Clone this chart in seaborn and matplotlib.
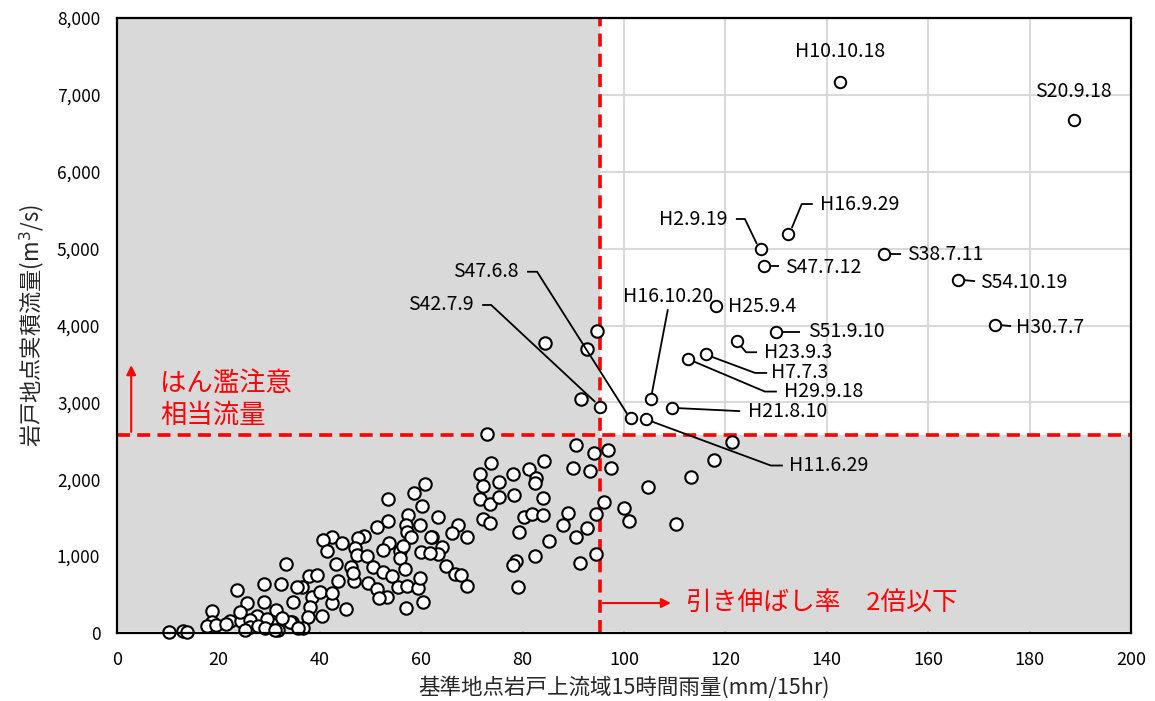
import numpy as np
import pandas as pd
import matplotlib
matplotlib.use("Agg")
import matplotlib.pyplot as plt
import seaborn as sns
from matplotlib.ticker import FuncFormatter, MultipleLocator

# ---------------- data ----------------
rain_x = [73.0, 90.5, 94.1, 96.8, 89.9, 93.3, 97.4, 73.8, 71.6, 72.2, 75.3, 78.1, 81.3, 82.6, 82.4, 84.2,
          71.6, 73.6, 75.3, 78.3, 84.0, 96.1, 72.2, 73.6, 80.3, 81.9, 84.0, 89.0, 88.0, 94.5, 92.7, 90.5,
          79.3, 85.2, 82.4, 78.7, 78.1, 94.5, 91.3, 79.1, 63.3, 67.3, 66.1, 69.0, 62.1, 64.1, 63.3, 64.9,
          66.7, 67.9, 69.0,
          121.3, 117.8, 113.2, 104.7, 100.0, 101.0, 110.3,
          84.4, 94.7, 92.7, 91.5,
          60.7, 58.6, 53.5, 60.2, 57.4, 53.5, 59.8, 57.0, 51.3, 57.2, 61.9, 58.0, 53.6, 52.5, 55.8, 56.4,
          60.0, 61.7, 55.8, 48.7, 47.5, 42.4, 40.6, 41.4, 44.4, 46.9, 47.3, 49.3, 50.5, 46.2, 52.5, 54.2,
          56.8, 43.2, 43.6, 46.7, 49.5, 51.3, 53.3, 51.7, 55.4, 57.2, 59.4, 59.8, 60.4, 57.0, 45.2, 42.4,
          40.4, 37.9, 39.4, 36.5, 38.5, 40.0, 42.4, 38.1, 37.7, 36.7, 34.7, 34.5, 46.5,
          33.3, 29.0, 32.3, 23.7, 25.6, 29.0, 31.4, 27.6, 18.7, 22.3, 24.5, 18.7, 17.8, 30.6, 34.1, 26.2,
          29.6, 10.3, 13.0, 13.8, 26.2, 31.8, 35.7, 35.5, 25.2, 27.8, 29.2, 32.5, 31.2, 24.3, 19.5, 21.5]
flow_y = [2590, 2446, 2341, 2380, 2146, 2107, 2150, 2211, 2068, 1912, 1964, 2068, 2133, 2016, 1951, 2237,
          1743, 1678, 1769, 1795, 1756, 1704, 1483, 1431, 1509, 1548, 1535, 1560, 1405, 1548, 1366, 1249,
          1314, 1197, 1002, 937, 885, 1028, 911, 598, 1509, 1405, 1301, 1249, 1249, 1119, 1028, 872,
          767, 754, 611,
          2485, 2250, 2029, 1899, 1626, 1457, 1418,
          3772, 3928, 3694, 3044,
          1938, 1821, 1743, 1652, 1535, 1457, 1405, 1405, 1379, 1314, 1249, 1249, 1171, 1080, 1067, 1132,
          1054, 1041, 976, 1262, 1236, 1249, 1210, 1067, 1171, 1106, 1015, 1002, 859, 859, 794, 741,
          833, 898, 676, 676, 650, 572, 468, 455, 598, 611, 585, 715, 403, 325, 312, 390,
          221, 741, 754, 598, 468, 533, 520, 338, 208, 65, 403, 143, 780,
          898, 637, 637, 559, 390, 403, 299, 221, 286, 156, 156, 143, 91, 117, 143, 169,
          182, 13, 26, 13, 78, 39, 65, 598, 39, 91, 65, 195, 39, 273, 100, 120]

event_names = ["H10.10.18", "S20.9.18", "H16.9.29", "H2.9.19", "S47.7.12", "S38.7.11", "S54.10.19",
               "H30.7.7", "H25.9.4", "S51.9.10", "H23.9.3", "H7.7.3", "H29.9.18", "H16.10.20",
               "H21.8.10", "H11.6.29", "S47.6.8", "S42.7.9"]
event_x = [142.6, 188.8, 132.3, 127.0, 127.6, 151.3, 165.9, 173.2, 118.1, 130.0, 122.3, 116.2, 112.6,
           105.3, 109.5, 104.3, 101.4, 95.3]
event_y = [7170, 6670, 5190, 4995, 4770, 4930, 4590, 4005, 4250, 3920, 3795, 3630, 3570, 3040, 2925,
           2790, 2800, 2940]

x_threshold = 95.3     # 引き伸ばし率 2倍
y_threshold = 2580     # はん濫注意相当流量

# ---------------- layout of labels (pixel offsets, y down) ----------------
label_layout = {
    "H10.10.18": (0, -30, "center", []),
    "S20.9.18": (-1, -29, "center", []),
    "H16.9.29": (32, -30, "left", [(4, -6), (14, -30), (25, -30)]),
    "H2.9.19": (-33, -30, "right", [(-4, -5), (-16, -30), (-25, -30)]),
    "S47.7.12": (21, 1, "left", [(6, 0), (15, 0)]),
    "S38.7.11": (23, 0, "left", [(6, 0), (17, 0)]),
    "S54.10.19": (22, 2, "left", [(6, 0), (17, 1)]),
    "H30.7.7": (21, 2, "left", [(6, 0), (16, 1)]),
    "H25.9.4": (12, 0, "left", []),
    "S51.9.10": (32, 0, "left", [(6, 0), (24, 0)]),
    "H23.9.3": (27, 11, "left", [(4, 5), (9, 11), (20, 11)]),
    "H7.7.3": (65, 19, "left", [(6, 3), (49, 19), (61, 19)]),
    "H29.9.18": (96, 33, "left", [(6, 3), (77, 33), (89, 33)]),
    "H16.10.20": (17, -103, "center", [(1, -6), (17, -90)]),
    "H21.8.10": (76, 3, "left", [(6, 0), (68, 3)]),
    "H11.6.29": (143, 47, "left", [(6, 3), (125, 47), (137, 47)]),
    "S47.6.8": (-113, -146, "right", [(-4, -4), (-94, -146), (-104, -146)]),
    "S42.7.9": (-127, -102, "right", [(-5, -5), (-109, -102), (-118, -102)]),
}

# ---------------- plotting ----------------
sns.set_theme(style="white")
plt.rcParams['font.family'] = ['Noto Sans CJK JP', 'DejaVu Sans']

W, H = 1155, 701
fig = plt.figure(figsize=(W / 100, H / 100), dpi=100)
L, R, T, B = 117, 1131, 18, 633
ax = fig.add_axes([L / W, 1 - B / H, (R - L) / W, (B - T) / H])

XMAX, YMAX = 200, 8000
ax.set_xlim(0, XMAX)
ax.set_ylim(0, YMAX)

gray = "#d9d9d9"
ax.set_axisbelow(True)
ax.grid(True, color=gray, linewidth=1.5, zorder=0)
ax.xaxis.set_major_locator(MultipleLocator(20))
ax.yaxis.set_major_locator(MultipleLocator(1000))

# shaded regions
ax.axvspan(0, x_threshold, ymin=30 / YMAX, ymax=1, color=gray, zorder=1, lw=0)
ax.axhspan(30, y_threshold, xmin=0, xmax=1, color=gray, zorder=1, lw=0)

df = pd.DataFrame({"rain": rain_x, "flow": flow_y})
sns.scatterplot(data=df, x="rain", y="flow", ax=ax, s=80, color="white", edgecolor="black",
                linewidth=1.5, zorder=5, clip_on=False)
ev = pd.DataFrame({"rain": event_x, "flow": event_y, "name": event_names})
sns.scatterplot(data=ev, x="rain", y="flow", ax=ax, s=68, color="white", edgecolor="black",
                linewidth=1.4, zorder=6)

# threshold lines
ax.axvline(x_threshold, color="#ff0000", lw=2.6, dashes=(3.6, 2.0), zorder=4)
ax.axhline(y_threshold, color="#ff0000", lw=2.6, dashes=(3.6, 2.0), zorder=4)

# frame
for s in ax.spines.values():
    s.set_visible(True)
    s.set_color("black")
    s.set_linewidth(1.6)
    s.set_zorder(10)

ax.tick_params(axis="y", length=0, labelsize=12.5, pad=12, colors="black")
ax.tick_params(axis="x", length=0, labelsize=13, pad=13, colors="black")
ax.yaxis.set_major_formatter(FuncFormatter(lambda v, p: f"{int(v):,}"))
ax.set_xlabel("基準地点岩戸上流域15時間雨量(mm/15hr)", fontsize=15.5, labelpad=5)
ax.set_ylabel("岩戸地点実積流量(m$^3$/s)", fontsize=16, labelpad=8)

# pixel scale for offsets
sx = (R - L) / XMAX
sy = (B - T) / YMAX


def off(x, y, dx, dy):
    return x + dx / sx, y - dy / sy


for name, px, py in zip(event_names, event_x, event_y):
    dx, dy, ha, path = label_layout[name]
    tx, ty = off(px, py, dx, dy)
    ax.text(tx, ty, name, ha=ha, va="center", fontsize=14, color="black", zorder=8)
    if path:
        pts = [off(px, py, a, b) for a, b in path]
        ax.plot([p[0] for p in pts], [p[1] for p in pts], color="black", lw=1.3, zorder=7,
                solid_capstyle="butt")

# red annotations
red = "#ff0000"
ax.annotate("", xy=(2.8, 3520), xytext=(2.8, y_threshold),
            arrowprops=dict(arrowstyle="-|>", color=red, lw=1.5, mutation_scale=14), zorder=9)
ax.text(8.5, 3255, "はん濫注意", color=red, fontsize=19, ha="left", va="center", zorder=9)
ax.text(8.5, 2840, "相当流量", color=red, fontsize=19, ha="left", va="center", zorder=9)

ax.annotate("", xy=(109.8, 390), xytext=(x_threshold, 390),
            arrowprops=dict(arrowstyle="-|>", color=red, lw=1.5, mutation_scale=14), zorder=9)
ax.text(112.3, 390, "引き伸ばし率　2倍以下", color=red, fontsize=18.5, ha="left", va="center", zorder=9)

fig.savefig("out.png", dpi=100)
